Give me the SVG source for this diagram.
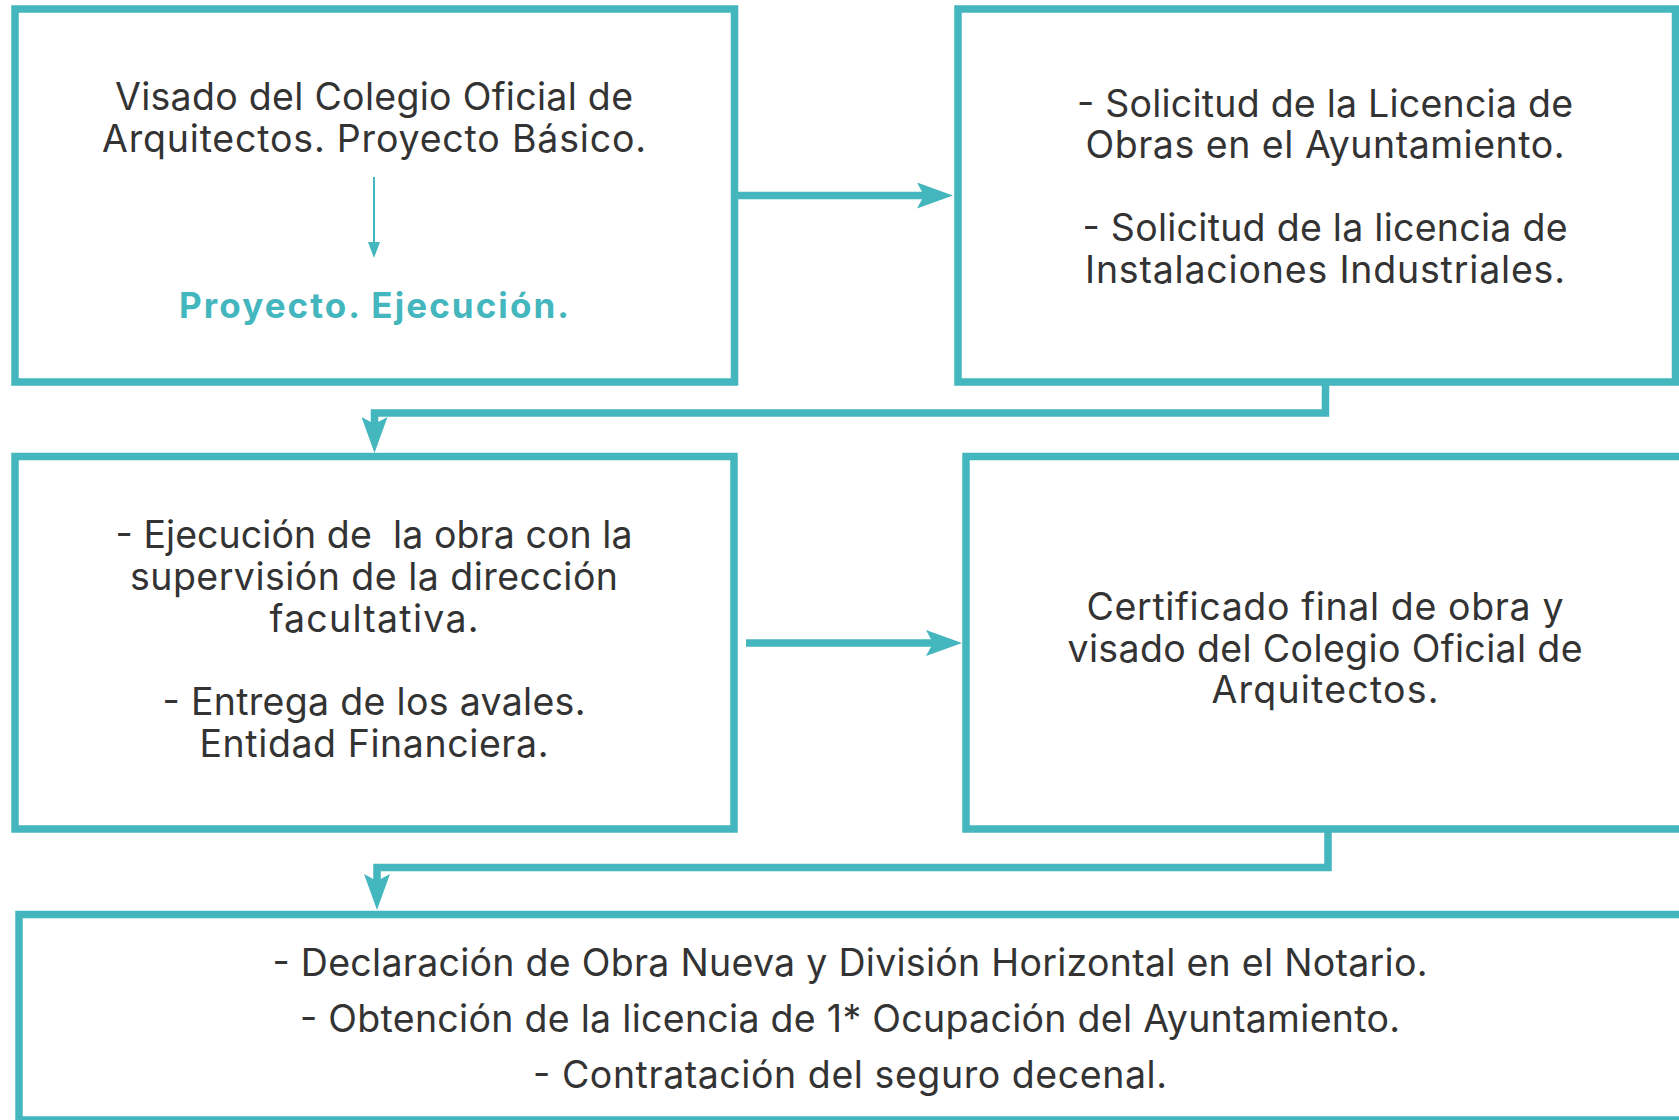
<svg xmlns="http://www.w3.org/2000/svg" width="1679" height="1120" viewBox="0 0 1679 1120">
<style>
.box{fill:#ffffff;stroke:#44b6bd;stroke-width:7.5}
.t{font-family:Inter,"Liberation Sans",sans-serif;font-size:37.5px;fill:#333333;text-anchor:middle}
.g{font-family:Inter,"Liberation Sans",sans-serif;font-size:35px;font-weight:700;fill:#44b6bd;text-anchor:middle}
.c{fill:none;stroke:#44b6bd;stroke-width:7.5;stroke-linejoin:miter;marker-end:url(#ah)}
.cs{fill:none;stroke:#44b6bd;stroke-width:2;marker-end:url(#ahs)}
</style>
<defs>
<marker id="ah" markerUnits="userSpaceOnUse" viewBox="0 0 36 26" markerWidth="36" markerHeight="26" refX="7" refY="13" orient="auto">
<path d="M0,0 L36,13 L0,26 L7,13 Z" fill="#44b6bd"/>
</marker>
<marker id="ahs" markerUnits="userSpaceOnUse" viewBox="0 0 16 12" markerWidth="16" markerHeight="12" refX="1" refY="6" orient="auto">
<path d="M0,0 L16,6 L0,12 Z" fill="#44b6bd"/>
</marker>
</defs>
<rect width="1679" height="1120" fill="#ffffff"/>
<g id="connectors">
<path class="c" d="M738,195.5 H924"/>
<path class="c" d="M746,643 H933"/>
<path class="c" d="M1325.5,382 V413 H374.5 V424"/>
<path class="c" d="M1328,829 V867.5 H377 V881"/>
</g>
<g id="node-visado">
<rect class="box" x="15" y="9" width="719.5" height="373"/>
<text class="t" x="374" y="110" textLength="518" lengthAdjust="spacing">Visado del Colegio Oficial de</text>
<text class="t" x="374" y="152" textLength="544" lengthAdjust="spacing">Arquitectos. Proyecto Básico.</text>
<path class="cs" d="M374,177 V243"/>
<text class="g" x="374" y="318" textLength="390" lengthAdjust="spacing">Proyecto. Ejecución.</text>
</g>
<g id="node-solicitud">
<rect class="box" x="958" y="9" width="717.5" height="373"/>
<text class="t" x="1325" y="117" textLength="496" lengthAdjust="spacing">- Solicitud de la Licencia de</text>
<text class="t" x="1325" y="158" textLength="479" lengthAdjust="spacing">Obras en el Ayuntamiento.</text>
<text class="t" x="1325" y="241" textLength="485" lengthAdjust="spacing">- Solicitud de la licencia de</text>
<text class="t" x="1325" y="283" textLength="480" lengthAdjust="spacing">Instalaciones Industriales.</text>
</g>
<g id="node-ejecucion">
<rect class="box" x="15" y="456.5" width="719" height="372.5"/>
<text class="t" x="374" y="548" textLength="517" lengthAdjust="spacing" xml:space="preserve">- Ejecución de  la obra con la</text>
<text class="t" x="374" y="590" textLength="488" lengthAdjust="spacing">supervisión de la dirección</text>
<text class="t" x="374" y="632" textLength="209" lengthAdjust="spacing">facultativa.</text>
<text class="t" x="374" y="715" textLength="423" lengthAdjust="spacing">- Entrega de los avales.</text>
<text class="t" x="374" y="757" textLength="349" lengthAdjust="spacing">Entidad Financiera.</text>
</g>
<g id="node-certificado">
<rect class="box" x="966" y="456.5" width="730" height="372.5"/>
<text class="t" x="1325" y="620" textLength="477" lengthAdjust="spacing">Certificado final de obra y</text>
<text class="t" x="1325" y="662" textLength="515" lengthAdjust="spacing">visado del Colegio Oficial de</text>
<text class="t" x="1325" y="703" textLength="227" lengthAdjust="spacing">Arquitectos.</text>
</g>
<g id="node-declaracion">
<rect class="box" x="19" y="914.5" width="1680" height="205.5"/>
<text class="t" x="850" y="976" textLength="1155" lengthAdjust="spacing">- Declaración de Obra Nueva y División Horizontal en el Notario.</text>
<text class="t" x="850" y="1032" textLength="1100" lengthAdjust="spacing">- Obtención de la licencia de 1* Ocupación del Ayuntamiento.</text>
<text class="t" x="850" y="1088" textLength="634" lengthAdjust="spacing">- Contratación del seguro decenal.</text>
</g>
</svg>
